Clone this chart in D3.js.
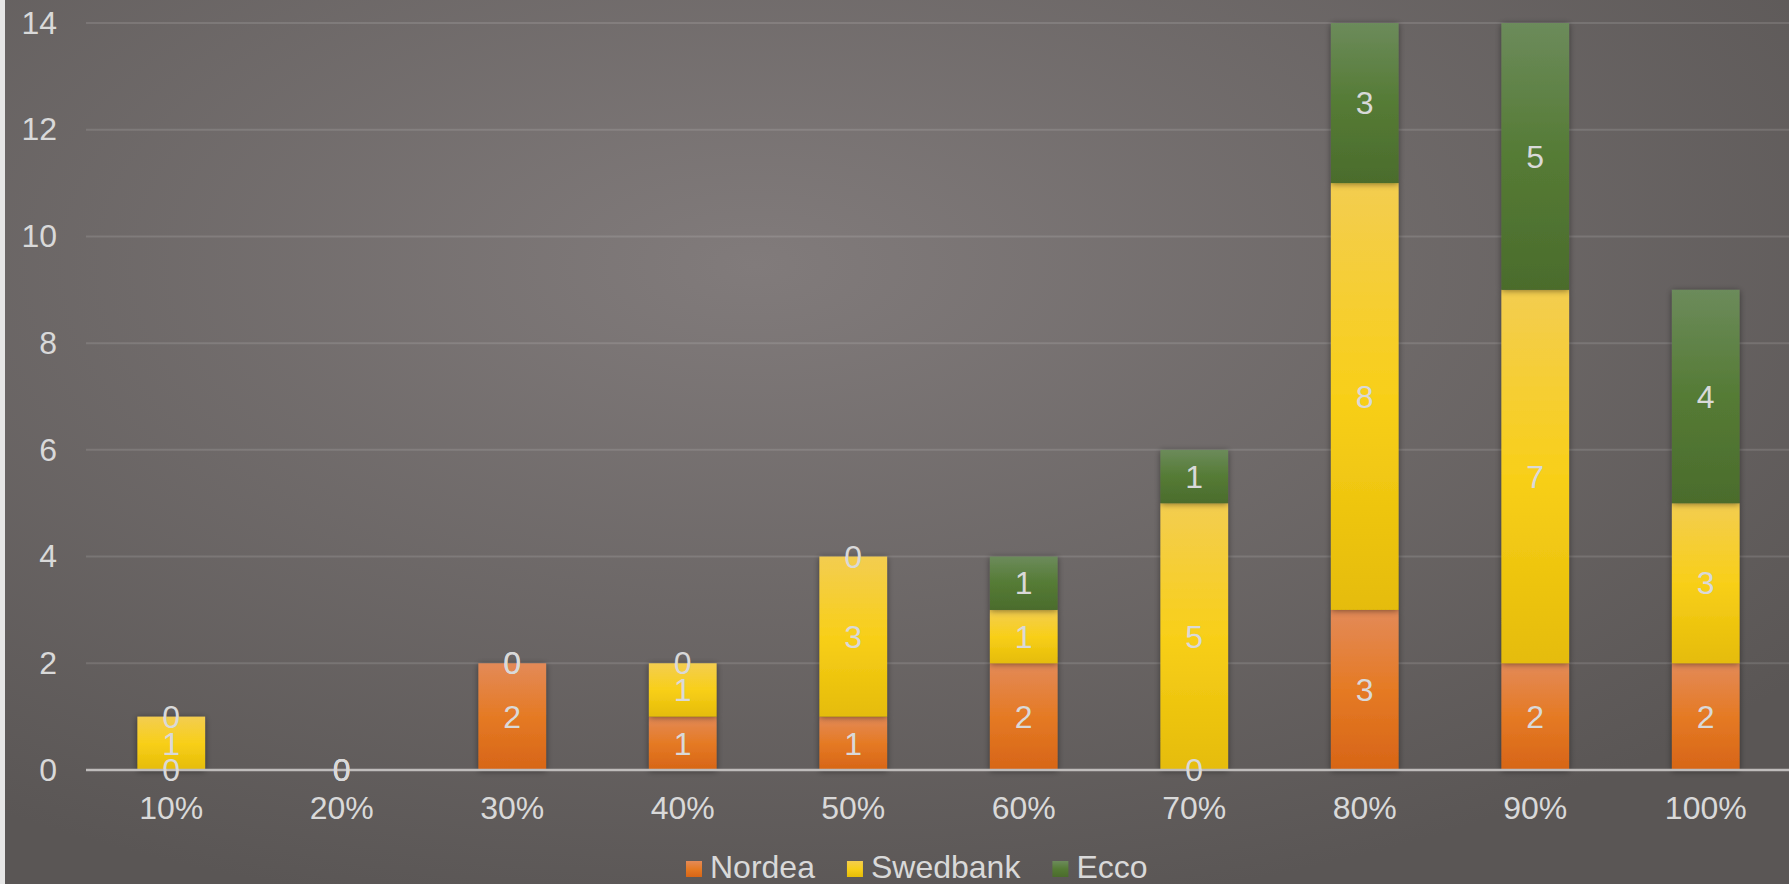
<!DOCTYPE html>
<html>
<head>
<meta charset="utf-8">
<script src="https://cdn.jsdelivr.net/npm/d3@7"></script>
<style>
  html, body { margin: 0; padding: 0; background: #e6e6e6; }
  svg { display: block; }
</style>
</head>
<body>
<svg id="chart" width="1789" height="884"></svg>
<script>
const categories = ["10%", "20%", "30%", "40%", "50%", "60%", "70%", "80%", "90%", "100%"];
const seriesNames = ["Nordea", "Swedbank", "Ecco"];
const nordea   = [0, 0, 2, 1, 1, 2, 0, 3, 2, 2];
const swedbank = [1, 0, 0, 1, 3, 1, 5, 8, 7, 3];
const ecco     = [0, 0, 0, 0, 0, 1, 1, 3, 5, 4];
const yTicks = [0, 2, 4, 6, 8, 10, 12, 14];

const W = 1789, H = 884;
const margin = { left: 86, right: -2, top: 23, bottom: 114 };

const svg = d3.select("#chart");
const defs = svg.append("defs");

// background gradient
const bg = defs.append("radialGradient").attr("id", "bg")
  .attr("cx", "42%").attr("cy", "30%").attr("r", "75%");
bg.append("stop").attr("offset", "0%").attr("stop-color", "#817b7b");
bg.append("stop").attr("offset", "100%").attr("stop-color", "#5a5655");

const fills = {
  Nordea:   ["#e38a58", "#e57a24", "#d76517"],
  Swedbank: ["#f3cd50", "#f8cf19", "#e5bc07"],
  Ecco:     ["#6c8b5b", "#557b35", "#4b6c2c"]
};
seriesNames.forEach(name => {
  const g = defs.append("linearGradient").attr("id", "g-" + name)
    .attr("x1", 0).attr("y1", 0).attr("x2", 0).attr("y2", 1);
  g.append("stop").attr("offset", "0%").attr("stop-color", fills[name][0]);
  g.append("stop").attr("offset", "50%").attr("stop-color", fills[name][1]);
  g.append("stop").attr("offset", "100%").attr("stop-color", fills[name][2]);
});

const shadow = defs.append("filter").attr("id", "shadow")
  .attr("x", "-30%").attr("y", "-10%").attr("width", "160%").attr("height", "130%");
shadow.append("feDropShadow").attr("dx", 0).attr("dy", 1)
  .attr("stdDeviation", 3).attr("flood-color", "#000").attr("flood-opacity", 0.45);

svg.append("rect").attr("x", 5).attr("y", 0).attr("width", W - 5).attr("height", H)
  .attr("fill", "url(#bg)");

const x = d3.scaleBand()
  .domain(categories)
  .range([margin.left, W - margin.right])
  .paddingInner(0.603)
  .paddingOuter(0.3015);

const y = d3.scaleLinear()
  .domain([0, 14])
  .range([H - margin.bottom, margin.top]);

const font = "'Liberation Sans', Arial, sans-serif";
const fontSize = "32px";
const textColor = "#d9d9d9";

// gridlines
svg.append("g").selectAll("line")
  .data(yTicks.filter(d => d > 0))
  .join("line")
  .attr("x1", margin.left).attr("x2", W)
  .attr("y1", d => y(d)).attr("y2", d => y(d))
  .attr("stroke", "rgba(255,255,255,0.12)")
  .attr("stroke-width", 2);

// y axis labels
const yAxis = svg.append("g")
  .attr("transform", `translate(${margin.left},0)`)
  .call(d3.axisLeft(y).tickValues(yTicks).tickSize(0).tickPadding(29));
yAxis.select(".domain").remove();
yAxis.selectAll("text")
  .attr("fill", textColor).style("font-family", font).style("font-size", fontSize);

// stacked bars
const table = categories.map((c, i) => ({
  cat: c, Nordea: nordea[i], Swedbank: swedbank[i], Ecco: ecco[i]
}));
const stacked = d3.stack().keys(seriesNames)(table);

const barG = svg.append("g");
stacked.forEach(layer => {
  barG.append("g")
    .selectAll("rect")
    .data(layer.filter(d => d[1] - d[0] > 0))
    .join("rect")
    .attr("x", d => x(d.data.cat))
    .attr("width", x.bandwidth())
    .attr("y", d => y(d[1]))
    .attr("height", d => y(d[0]) - y(d[1]))
    .attr("fill", "url(#g-" + layer.key + ")")
    .attr("filter", "url(#shadow)");
});

// x axis
const xAxis = svg.append("g")
  .attr("transform", `translate(0,${y(0)})`)
  .call(d3.axisBottom(x).tickSize(0).tickPadding(26));
xAxis.select(".domain").remove();
xAxis.selectAll("text")
  .attr("fill", textColor).style("font-family", font).style("font-size", fontSize);

svg.append("line")
  .attr("x1", margin.left).attr("x2", W)
  .attr("y1", y(0)).attr("y2", y(0))
  .attr("stroke", "#bfbcbb").attr("stroke-width", 2.5);

// data labels
const labelG = svg.append("g");
stacked.forEach(layer => {
  labelG.append("g")
    .selectAll("text")
    .data(layer)
    .join("text")
    .attr("x", d => x(d.data.cat) + x.bandwidth() / 2)
    .attr("y", d => y((d[0] + d[1]) / 2))
    .attr("dy", "0.35em")
    .attr("text-anchor", "middle")
    .attr("fill", textColor)
    .style("font-family", font)
    .style("font-size", fontSize)
    .text(d => d[1] - d[0]);
});

// legend
const legend = svg.append("g").attr("transform", "translate(686,0)");
let lx = 0;
seriesNames.forEach(name => {
  const item = legend.append("g").attr("transform", `translate(${lx},0)`);
  item.append("rect").attr("x", 0).attr("y", 861).attr("width", 16).attr("height", 16)
    .attr("fill", "url(#g-" + name + ")");
  const t = item.append("text").attr("x", 24).attr("y", 878)
    .attr("fill", textColor).style("font-family", font).style("font-size", fontSize)
    .text(name);
  lx += 24 + t.node().getComputedTextLength() + 32;
});
</script>
</body>
</html>
